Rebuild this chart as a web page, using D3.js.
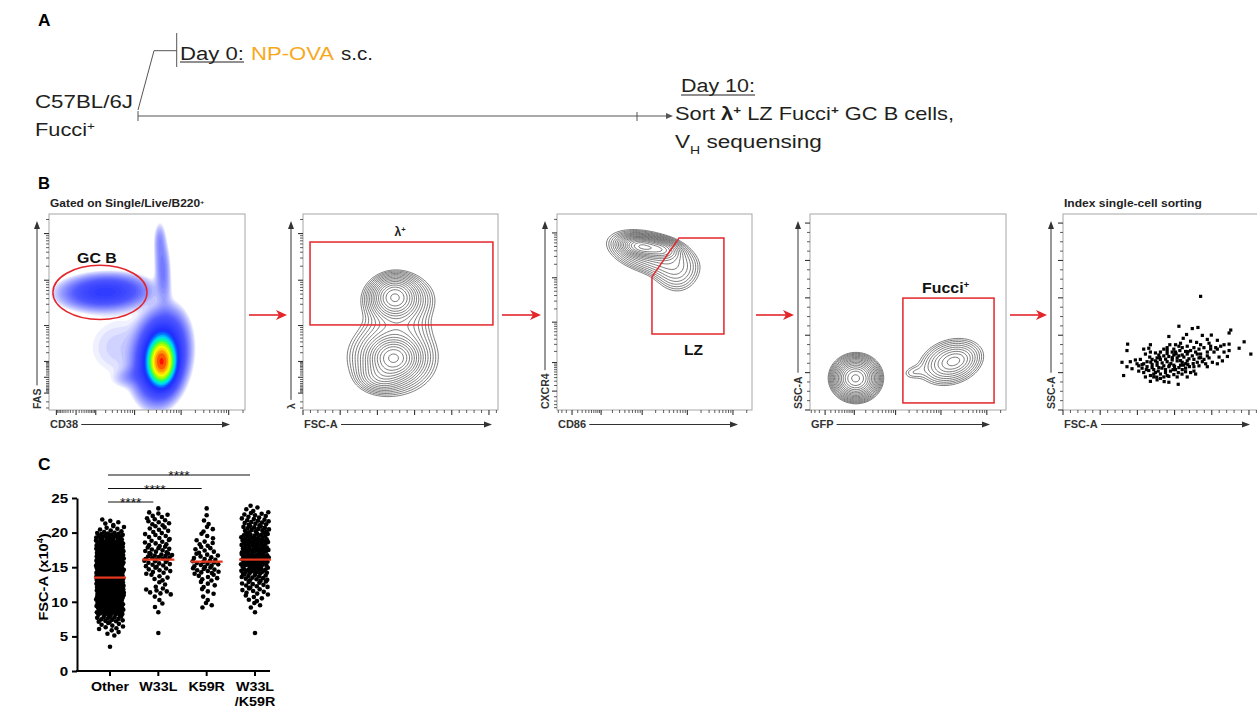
<!DOCTYPE html>
<html><head><meta charset="utf-8">
<script src="https://cdn.jsdelivr.net/npm/d3@7/dist/d3.min.js"></script>
<style>html,body{margin:0;padding:0;background:#fff;overflow:hidden}svg{display:block}</style>
</head><body>
<svg id="fig" width="1257" height="711" xmlns="http://www.w3.org/2000/svg"></svg>
<script>
// ======================= DATA =======================
// Panel A – timeline
const timelineDays = [0, 10];
const dayLabels = ["Day 0:", "Day 10:"];

// Panel B – cell populations
// [u-centre, v-centre, sd-u, sd-v, angle(deg), peak height] in axis-fraction units
const popFAS_CD38 = [
  [0.575, 0.246, 0.034, 0.058, 0, 1.0],
  [0.572, 0.27, 0.058, 0.1, -8, 0.25],
  [0.58, 0.72, 0.022, 0.1, 3, 0.018],
  [0.286, 0.602, 0.11, 0.0435, 2, 0.075],
  [0.36, 0.32, 0.14, 0.13, 0, 0.005],
  [0.45, 0.18, 0.06, 0.028, 15, 0.012],
  [0.565, 0.87, 0.016, 0.05, 0, 0.008]
];
const popLambda_FSC = [
  [0.47, 0.575, 0.055, 0.05, 0, 0.8],
  [0.49, 0.56, 0.1, 0.075, 0, 0.25],
  [0.465, 0.265, 0.06, 0.05, 0, 1.0],
  [0.46, 0.27, 0.12, 0.1, 0, 0.3],
  [0.4, 0.17, 0.06, 0.04, 0, 0.2],
  [0.5, 0.42, 0.09, 0.05, 0, 0.05]
];
const popCXCR4_CD86 = [
  [0.43, 0.835, 0.05, 0.025, -8, 1.0],
  [0.53, 0.82, 0.05, 0.025, -8, 0.7],
  [0.48, 0.8, 0.12, 0.055, -15, 0.3],
  [0.61, 0.7, 0.07, 0.065, -30, 0.12]
];
const popSSC_GFP = [
  [0.235, 0.163, 0.058, 0.054, 0, 1.0],
  [0.23, 0.16, 0.045, 0.04, 0, 0.6],
  [0.72, 0.245, 0.092, 0.062, 18, 0.3],
  [0.74, 0.25, 0.05, 0.03, 18, 0.15],
  [0.52, 0.19, 0.04, 0.025, 10, 0.06]
];
// gates (axis-fraction units)
const gateGCB = {cx: 0.26, cy: 0.6, rx: 0.24, ry: 0.138};
const gateLambda = [[0.036, 0.434], [0.974, 0.857]];
const gateLZ = [[0.626, 0.878], [0.856, 0.878], [0.856, 0.388], [0.487, 0.388], [0.487, 0.679]];
const gateFucci = [[0.474, 0.036], [0.939, 0.571]];
// index-sorted cells: [FSC-A (K), SSC-A (K)]
const indexSortCells = [
 [185,152],[155.8,112],[173.8,108.9],[181.4,110.4],[225.5,106.9],[223.3,103],[142.3,98.3],[166.1,101],[161.6,95.9],
 [187.3,99.8],[199.4,100.2],[194,94.4],[171.5,92],[179.6,90.4],[185,87.3],[196.3,89.3],[207.5,93.2],[243.5,91.2],
 [236.8,82.6],[223.3,88.1],[216.5,87.3],[252.5,74.8],[86.9,88.1],[117.5,87.3],[108.5,81.4],[86,79.5],[115.3,82.6],
 [143.6,87.3],[151.3,87.3],[155.8,85.3],[160.3,83.4],[167,85.3],[176,83.4],[182.8,81.4],[189.5,83.4],[198.5,81.4],
 [205.3,83.4],[212,85.3],[223.3,79.5],[221,71.6],[209.8,70.8],[203,77.5],[194,77.5],[185,74.8],[178.3,77.5],
 [171.5,79.5],[164.8,78.3],[157.1,79.5],[149,81.4],[140,79.5],[131,77.5],[124.3,76.3],[117.5,77.5],[110.8,74.8],
 [104,67.7],[97.3,66.9],[90.5,64.6],[79.3,63.8],[86,57.9],[92.8,55.2],[81.5,46.1],[99.5,61.8],[106.3,60.6],
 [113,64.6],[119.8,67.7],[126.5,69.7],[135.5,72.4],[142.3,71.6],[149,73.6],[155.8,72.4],[162.5,70.8],[169.3,68.5],
 [176,67.7],[182.8,69.7],[189.5,67.7],[196.3,69.7],[200.8,63.8],[191.8,61.8],[182.8,59.1],[176,57.9],[167.9,60.6],
 [160.3,63.8],[153.5,65.7],[146.8,66.9],[140,64.6],[133.3,63],[126.5,63.8],[119.8,60.6],[113,57.9],[106.3,55.9],
 [101.8,52],[108.5,50.1],[115.3,52.8],[122,54],[128.8,56.7],[135.5,59.1],[142.3,57.9],[149,59.9],[155.8,56.7],
 [160.3,54],[164.8,51.2],[171.5,50.1],[144.5,52],[137.8,50.1],[131,48.1],[124.3,50.1],[117.5,46.1],[110.8,44.2],
 [122,44.2],[131,42.2],[142.3,45],[149,47.3],[153.5,44.2],[154.9,34.4],[142.3,37.1],[117.5,38.3],[126.5,40.3],
 [135.5,44.2],[158,59.9],[153.5,69.7],[146.8,77.5],[140,75.5],[131,67.7],[124.3,65.7],[116.6,70.8],[128.8,73.6],
 [167,65.7],[173.8,72.4],[180.5,63.8],[187.3,64.6],[194,72.4],[164.8,55.9],[151.3,54],[137.8,54],[126.5,59.9],
 [119.8,56.7],[108.5,61.8],[101.8,59.1],[167,74.8],[180.5,74.8],[160.3,73.6],[151.3,77.5],[140,83.4],[135.5,81.4],
 [158,89.3],[198.5,85.3],[207.5,81.4],[216.5,77.5],[214.3,65.7],[207.5,61.8],[194,57.9],[176,52],[167,44.2],
 [178.3,48.1],[145,62],[150,58],[138,68],[158,66],[162,60],[128,52],[133,56],[147,70],[155,50],[165,62],[170,58],
 [118,64],[122,48],[112,54],[140,46],[152,75],[175,62],[185,70],[143,60],[160,48],[130,70],[126,44],[136,38],
 [148,54],[168,78]
];

// Panel C – FSC-A (x10^4) counts per 1-unit bin, starting at 3
const groupsC = ["Other", "W33L", "K59R", "W33L/K59R"];
const binStartC = 3;
const countsOther  = [1,0,4,8,14,22,30,36,42,46,48,48,46,42,36,30,20,8,5,0,0];
const countsW33L   = [0,0,1,0,0,1,2,2,7,3,5,8,10,14,10,8,7,6,7,6,1];
const countsK59R   = [0,0,0,0,0,0,3,2,3,4,6,10,11,8,6,5,3,3,2,1,1];
const countsDouble = [0,0,1,0,0,1,3,5,8,10,13,18,22,26,23,20,17,14,12,9,4];
const mediansC = [13.5, 16.1, 15.8, 16.1];
const yTicksC = [0, 5, 10, 15, 20, 25];
const sigPairsC = [[0, 1, "****"], [0, 2, "****"], [0, 3, "****"]];

// ======================= DRAWING =======================
const svg = d3.select("#fig");
const F = "'Liberation Sans', Arial, Helvetica, sans-serif";
const INK = "#231f20";
const RED = "#e3262b";

function stext(parent, x, y, parts, o) {
  o = o || {};
  const g = parent.append("g");
  const t = g.append("text").attr("font-family", F).attr("font-size", o.size || 12)
    .attr("font-weight", o.bold ? "bold" : "normal").attr("fill", o.fill || INK)
    .attr("text-anchor", o.anchor || "start");
  (Array.isArray(parts) ? parts : [parts]).forEach(p => {
    if (typeof p === "string") { t.append("tspan").text(p); }
    else {
      const ts = t.append("tspan").text(p.t);
      if (p.fill) ts.attr("fill", p.fill);
      if (p.bold) ts.attr("font-weight", "bold");
      if (p.sup) ts.attr("font-size", (o.size || 12) * 0.62).attr("baseline-shift", "super");
      if (p.sub) ts.attr("font-size", (o.size || 12) * 0.62).attr("baseline-shift", "sub");
    }
  });
  let k = o.k || 1;
  if (o.w) { const bw = t.node().getBBox().width; if (bw > 0) k = o.w / bw; }
  const rot = o.rot ? ` rotate(${o.rot})` : "";
  g.attr("transform", `translate(${x},${y})${rot} scale(${k},1)`);
  return t;
}

// ---------------- Panel A ----------------
const gA = svg.append("g");
stext(gA, 38, 26, "A", {size: 16, bold: true, fill: "#000", w: 13});
const dayX = d3.scaleLinear().domain([0, 10]).range([138, 637]);
const lineCol = "#555";
gA.append("line").attr("x1", dayX(0)).attr("x2", 669).attr("y1", 116).attr("y2", 116).attr("stroke", lineCol).attr("stroke-width", 1);
gA.append("path").attr("d", "M673,116 L666,113 L666,119 Z").attr("fill", lineCol);
timelineDays.forEach(d => {
  gA.append("line").attr("x1", dayX(d)).attr("x2", dayX(d)).attr("y1", d === 0 ? 111 : 112).attr("y2", 121)
    .attr("stroke", lineCol).attr("stroke-width", 1);
});
gA.append("path").attr("d", `M${dayX(0)},110 L154,50.7 L176.7,50.7`).attr("fill", "none").attr("stroke", lineCol).attr("stroke-width", 1);
gA.append("line").attr("x1", 176.7).attr("x2", 176.7).attr("y1", 33).attr("y2", 67).attr("stroke", lineCol).attr("stroke-width", 1);
stext(gA, 180, 60, dayLabels[0], {size: 18, w: 64});
gA.append("line").attr("x1", 180).attr("x2", 244).attr("y1", 62).attr("y2", 62).attr("stroke", INK).attr("stroke-width", 1);
stext(gA, 251, 60, "NP-OVA", {size: 18, w: 83, fill: "#f8a81d"});
stext(gA, 341, 60, "s.c.", {size: 18, w: 32});
stext(gA, 35, 108, "C57BL/6J", {size: 18, w: 98});
stext(gA, 35, 136, ["Fucci", {t: "+", sup: true}], {size: 18, w: 60});
stext(gA, 681, 92, dayLabels[1], {size: 18, w: 74});
gA.append("line").attr("x1", 681).attr("x2", 755).attr("y1", 95).attr("y2", 95).attr("stroke", INK).attr("stroke-width", 1);
stext(gA, 675, 120, ["Sort ", {t: "λ", bold: true}, {t: "+", sup: true, bold: true}, " LZ Fucci", {t: "+", sup: true, bold: true}, " GC B cells,"], {size: 18, w: 279});
stext(gA, 675, 148, ["V", {t: "H", sub: true}, " sequensing"], {size: 18, w: 147});

// ---------------- Panel B ----------------
const gB = svg.append("g");
stext(gB, 38, 189, "B", {size: 16, bold: true, fill: "#000", w: 12});

function densityGrid(comps, N) {
  const vals = new Array(N * N);
  let mx = 0;
  for (let j = 0; j < N; j++) for (let i = 0; i < N; i++) {
    const u = (i + 0.5) / N, v = 1 - (j + 0.5) / N;
    let s = 0;
    for (const [cx, cy, sx, sy, ang, h] of comps) {
      const a = ang * Math.PI / 180, dx = u - cx, dy = v - cy;
      const xr = dx * Math.cos(a) + dy * Math.sin(a), yr = -dx * Math.sin(a) + dy * Math.cos(a);
      s += h * Math.exp(-0.5 * (xr * xr / (sx * sx) + yr * yr / (sy * sy)));
    }
    vals[j * N + i] = s; if (s > mx) mx = s;
  }
  return vals.map(d => d / mx);
}
function logTicks(dom) {
  const major = [0], minor = [];
  for (let n = 1; n <= 5; n++) for (let k = 1; k <= 9; k++) {
    const val = k * Math.pow(10, n);
    for (const t of [val, -val]) if (t > dom[0] && t < dom[1]) ((k === 1 && n >= 2) ? major : minor).push(t);
  }
  return {major, minor};
}
function linTicks(dom, maj, mn) {
  const major = d3.range(0, dom[1] + 1e-9, maj);
  const minor = d3.range(0, dom[1] + 1e-9, mn).filter(t => Math.abs(t / maj - Math.round(t / maj)) > 1e-6);
  return {major, minor};
}
const pseudo = d3.piecewise(d3.interpolateRgb, ["#1f2dff", "#0070ff", "#00d8ff", "#00ff90", "#90ff00", "#ffff00", "#ff9000", "#ff1000"]);
function pseudoColor(f) {
  if (f < 0.36) return d3.interpolateRgb("#f0f1ff", "#5058ff")(Math.pow(f / 0.36, 0.9));
  if (f < 0.6) return d3.interpolateRgb("#5058ff", "#1f2dff")((f - 0.36) / 0.24);
  return pseudo((f - 0.6) / 0.4);
}

const plots = [
  {x0: 49, w: 196, xLab: "CD38", yLab: "FAS", xT: "log", xC: 63, xDom: [-170, 220000], yT: "log", yC: 85, yDom: [-340, 262144],
   pop: popFAS_CD38, style: "pseudo", arrowEnd: 230, title: ["Gated on Single/Live/B220", {t: "+", sup: true}], titleW: 155},
  {x0: 303, w: 195, xLab: "FSC-A", yLab: "λ", xT: "lin", xDom: [0, 262.144], yT: "log", yC: 85, yDom: [-340, 262144],
   pop: popLambda_FSC, style: "contour", arrowEnd: 492},
  {x0: 557, w: 195, xLab: "CD86", yLab: "CXCR4", xT: "log", xC: 30, xDom: [-34, 261000], yT: "log", yC: 30, yDom: [-49, 264000],
   pop: popCXCR4_CD86, style: "contour", arrowEnd: 738},
  {x0: 810, w: 196, xLab: "GFP", yLab: "SSC-A", xT: "log", xC: 30, xDom: [-34, 262000], yT: "lin", yDom: [0, 262.144],
   pop: popSSC_GFP, style: "contour", arrowEnd: 990},
  {x0: 1063, w: 195, xLab: "FSC-A", yLab: "SSC-A", xT: "lin", xDom: [0, 262.144], yT: "lin", yDom: [0, 262.144],
   pop: null, style: "dots", arrowEnd: 1250, title: ["Index single-cell sorting"], titleW: 138}
];
const Y0 = 214, HB = 196;
const defs = svg.append("defs");

plots.forEach((p, idx) => {
  const g = gB.append("g");
  const uS = d3.scaleLinear().domain([0, 1]).range([p.x0, p.x0 + p.w]);
  const vS = d3.scaleLinear().domain([0, 1]).range([Y0 + HB, Y0]);
  const xs = p.xT === "log" ? d3.scaleSymlog().constant(p.xC).domain(p.xDom).range([p.x0, p.x0 + p.w])
                            : d3.scaleLinear().domain(p.xDom).range([p.x0, p.x0 + p.w]);
  const ys = p.yT === "log" ? d3.scaleSymlog().constant(p.yC).domain(p.yDom).range([Y0 + HB, Y0])
                            : d3.scaleLinear().domain(p.yDom).range([Y0 + HB, Y0]);
  const cid = "clip" + idx;
  defs.append("clipPath").attr("id", cid).append("rect").attr("x", p.x0).attr("y", Y0).attr("width", p.w).attr("height", HB);
  const inner = g.append("g").attr("clip-path", `url(#${cid})`);

  if (p.pop) {
    const N = 130;
    const vals = densityGrid(p.pop, N);
    const gx = d3.scaleLinear([0, N], [p.x0, p.x0 + p.w]), gy = d3.scaleLinear([0, N], [Y0, Y0 + HB]);
    const path = d3.geoPath(d3.geoTransform({point(x, y) { this.stream.point(gx(x), gy(y)); }}));
    if (p.style === "pseudo") {
      const L = 34, lo = 0.0025, hi = 0.96;
      const levels = d3.range(L).map(i => lo * Math.pow(hi / lo, i / (L - 1)));
      const cs = d3.contours().size([N, N]).thresholds(levels)(vals);
      inner.selectAll("path.band").data(cs).join("path").attr("d", path)
        .attr("fill", (d, i) => pseudoColor(i / (L - 1))).attr("stroke", "none");
    } else {
      const L = 16, lo = 0.035, hi = 0.93;
      const levels = d3.range(L).map(i => lo * Math.pow(hi / lo, i / (L - 1)));
      const cs = d3.contours().size([N, N]).thresholds(levels)(vals);
      inner.selectAll("path.ct").data(cs).join("path").attr("d", path)
        .attr("fill", "none").attr("stroke", "#333").attr("stroke-width", 0.65);
    }
  } else {
    inner.selectAll("rect.cell").data(indexSortCells).join("rect")
      .attr("x", d => xs(d[0]) - 1.6).attr("y", d => ys(d[1]) - 1.6).attr("width", 3.2).attr("height", 3.2).attr("fill", "#000");
  }

  g.append("rect").attr("x", p.x0).attr("y", Y0).attr("width", p.w).attr("height", HB)
    .attr("fill", "none").attr("stroke", "#a6a6a6").attr("stroke-width", 1);

  const xt = p.xT === "log" ? logTicks(p.xDom) : linTicks(p.xDom, 50, 10);
  const yt = p.yT === "log" ? logTicks(p.yDom) : linTicks(p.yDom, 50, 12.5);
  const tk = g.append("g").attr("stroke", "#333");
  xt.major.forEach(t => tk.append("line").attr("x1", xs(t)).attr("x2", xs(t)).attr("y1", Y0 + HB).attr("y2", Y0 + HB + 5).attr("stroke-width", 1.1));
  xt.minor.forEach(t => tk.append("line").attr("x1", xs(t)).attr("x2", xs(t)).attr("y1", Y0 + HB).attr("y2", Y0 + HB + 3).attr("stroke-width", 0.8));
  yt.major.forEach(t => tk.append("line").attr("y1", ys(t)).attr("y2", ys(t)).attr("x1", p.x0).attr("x2", p.x0 - 5).attr("stroke-width", 1.1));
  yt.minor.forEach(t => tk.append("line").attr("y1", ys(t)).attr("y2", ys(t)).attr("x1", p.x0).attr("x2", p.x0 - 3).attr("stroke-width", 0.8));

  const xl = stext(g, p.x0 + 1, 428, p.xLab, {size: 10, bold: true, fill: "#333", k: 1.1});
  const xlw = xl.node().getBBox().width * 1.1;
  g.append("line").attr("x1", p.x0 + 1 + xlw + 3).attr("x2", p.arrowEnd - 6).attr("y1", 424.5).attr("y2", 424.5).attr("stroke", "#333").attr("stroke-width", 1);
  g.append("path").attr("d", `M${p.arrowEnd},424.5 L${p.arrowEnd - 8},421.5 L${p.arrowEnd - 8},427.5 Z`).attr("fill", "#333");
  const ax = p.x0 - 12;
  const yl = stext(g, ax + 3.6, 409, p.yLab, {size: 10, bold: true, fill: "#333", rot: -90, k: 1.05});
  const ylw = yl.node().getBBox().width * 1.05;
  g.append("line").attr("x1", ax).attr("x2", ax).attr("y1", 409 - ylw - 3).attr("y2", 228).attr("stroke", "#333").attr("stroke-width", 1);
  g.append("path").attr("d", `M${ax},221 L${ax - 3},229 L${ax + 3},229 Z`).attr("fill", "#333");

  if (p.title) stext(g, p.x0 + 1, 207, p.title, {size: 10, bold: true, fill: "#222", w: p.titleW});

  if (idx < plots.length - 1) {
    const x1 = p.x0 + p.w + 4, x2 = plots[idx + 1].x0 - 16;
    g.append("line").attr("x1", x1).attr("x2", x2 - 8).attr("y1", 315).attr("y2", 315).attr("stroke", RED).attr("stroke-width", 1.6);
    g.append("path").attr("d", `M${x2},315 L${x2 - 11},310 L${x2 - 8},315 L${x2 - 11},320 Z`).attr("fill", RED);
  }

  if (idx === 0) {
    g.append("ellipse").attr("cx", uS(gateGCB.cx)).attr("cy", vS(gateGCB.cy))
      .attr("rx", uS(gateGCB.rx) - uS(0)).attr("ry", vS(0) - vS(gateGCB.ry))
      .attr("fill", "none").attr("stroke", RED).attr("stroke-width", 1.5);
    stext(g, 77, 263, "GC B", {size: 15, bold: true, fill: "#111", w: 40});
  }
  if (idx === 1) {
    const [a, b] = gateLambda;
    g.append("rect").attr("x", uS(a[0])).attr("y", vS(b[1])).attr("width", uS(b[0]) - uS(a[0])).attr("height", vS(a[1]) - vS(b[1]))
      .attr("fill", "none").attr("stroke", RED).attr("stroke-width", 1.5);
    stext(g, 400, 236, ["λ", {t: "+", sup: true}], {size: 12, bold: true, fill: "#222", anchor: "middle"});
  }
  if (idx === 2) {
    g.append("path").attr("d", d3.line().x(d => uS(d[0])).y(d => vS(d[1])).curve(d3.curveLinearClosed)(gateLZ))
      .attr("fill", "none").attr("stroke", RED).attr("stroke-width", 1.5);
    stext(g, 684, 355, "LZ", {size: 15, bold: true, fill: "#111", w: 19});
  }
  if (idx === 3) {
    const [a, b] = gateFucci;
    g.append("rect").attr("x", uS(a[0])).attr("y", vS(b[1])).attr("width", uS(b[0]) - uS(a[0])).attr("height", vS(a[1]) - vS(b[1]))
      .attr("fill", "none").attr("stroke", RED).attr("stroke-width", 1.5);
    stext(g, 922, 293, ["Fucci", {t: "+", sup: true}], {size: 15, bold: true, fill: "#111", w: 48});
  }
});

// ---------------- Panel C ----------------
const gC = svg.append("g");
stext(gC, 38, 470, "C", {size: 16, bold: true, fill: "#000", w: 13});
const xC = d3.scalePoint().domain(groupsC).range([110, 255]);
const yC = d3.scaleLinear().domain([0, 25]).range([671, 498]);

function columnLayout(counts) {
  const pts = [];
  counts.forEach((n, b) => {
    const spread = Math.min(14, 3 + n * 1.5);
    for (let i = 0; i < n; i++) {
      const y = binStartC + b + (i + 0.5) / n;
      const f = ((i * 0.6180339887 + b * 0.37) % 1) - 0.5;
      pts.push({y, dx: n === 1 ? 0 : f * 2 * spread});
    }
  });
  return pts;
}
const allCounts = [countsOther, countsW33L, countsK59R, countsDouble];
allCounts.forEach((c, gi) => {
  const pts = columnLayout(c);
  gC.append("g").selectAll("circle").data(pts).join("circle")
    .attr("cx", d => xC(groupsC[gi]) + d.dx).attr("cy", d => yC(d.y)).attr("r", 2.3).attr("fill", "#000");
});
mediansC.forEach((m, gi) => {
  gC.append("line").attr("x1", xC(groupsC[gi]) - 16).attr("x2", xC(groupsC[gi]) + 16)
    .attr("y1", yC(m)).attr("y2", yC(m)).attr("stroke", "#e8381e").attr("stroke-width", 2.2);
});
const axY = gC.append("g").attr("transform", "translate(77,0)")
  .call(d3.axisLeft(yC).tickValues(yTicksC).tickSize(5).tickSizeOuter(0).tickPadding(3));
axY.select(".domain").attr("stroke", "#000").attr("stroke-width", 2);
axY.selectAll(".tick line").attr("stroke", "#000").attr("stroke-width", 2);
axY.selectAll(".tick text").attr("font-family", F).attr("font-size", 13.5).attr("font-weight", "bold").attr("fill", "#000")
  .attr("transform", "scale(1.12,1)");
gC.append("line").attr("x1", 76).attr("x2", 270).attr("y1", 671).attr("y2", 671).attr("stroke", "#000").attr("stroke-width", 2);
groupsC.forEach(gname => {
  gC.append("line").attr("x1", xC(gname)).attr("x2", xC(gname)).attr("y1", 671).attr("y2", 676).attr("stroke", "#000").attr("stroke-width", 2);
  const parts = gname.split("/");
  if (parts.length === 1) {
    stext(gC, xC(gname), 691, gname, {size: 13, bold: true, fill: "#000", anchor: "middle", k: 1.1});
  } else {
    stext(gC, xC(gname), 691, parts[0], {size: 13, bold: true, fill: "#000", anchor: "middle", k: 1.1});
    stext(gC, xC(gname), 706, "/" + parts[1], {size: 13, bold: true, fill: "#000", anchor: "middle", k: 1.1});
  }
});
stext(gC, 48, 577, ["FSC-A (x10", {t: "4", sup: true}, ")"], {size: 13.5, bold: true, fill: "#000", anchor: "middle", rot: -90, k: 1.08});
sigPairsC.forEach(([a, b, lab], i) => {
  const y = 502 - i * 13.5;
  const x1 = xC(groupsC[a]) - 2, x2 = xC(groupsC[b]) - 5;
  gC.append("line").attr("x1", x1).attr("x2", x2).attr("y1", y).attr("y2", y).attr("stroke", "#111").attr("stroke-width", 1.2);
  stext(gC, (x1 + x2) / 2, y + 5, lab, {size: 12, fill: "#111", anchor: "middle", k: 1.15});
});
</script>
</body></html>
